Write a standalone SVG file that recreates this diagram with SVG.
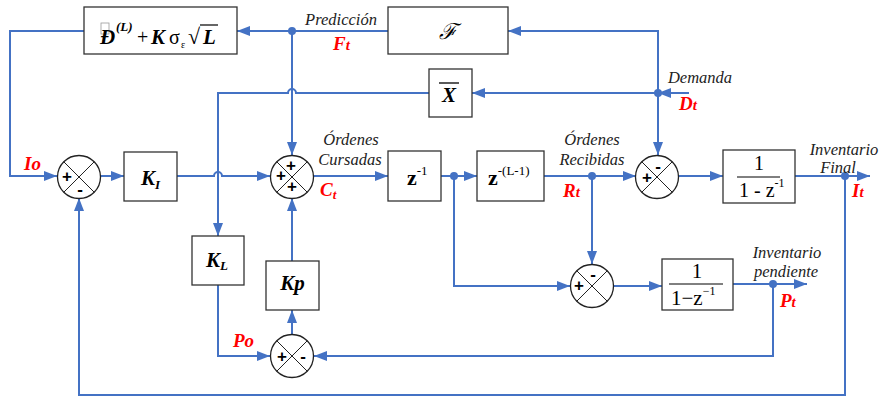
<svg xmlns="http://www.w3.org/2000/svg" width="883" height="398" viewBox="0 0 883 398">
<defs>
<marker id="a" markerWidth="13" markerHeight="10" refX="13" refY="5" orient="auto" markerUnits="userSpaceOnUse"><path d="M0,0L13,5L0,10z" fill="#4472C4"/></marker>
</defs>
<style>
.ln{fill:none;stroke:#4472C4;stroke-width:2}
.ar{marker-end:url(#a)}
.dot{fill:#4472C4}
.box{fill:#fff;stroke:#333;stroke-width:1.3}
.sc{fill:#fff;stroke:#222;stroke-width:1.3}
.x{stroke:#222;stroke-width:1}
.sg{font-weight:bold;font-size:17px;fill:#000;text-anchor:middle}
.lbl{font-style:italic;font-size:16.5px;fill:#222;text-anchor:middle}
.red{font-style:italic;font-weight:bold;font-size:19px;fill:#f00}
.bt{font-style:italic;font-weight:bold;font-size:21px;fill:#000}
.tm{font-size:20px;fill:#000}
</style>
<rect width="883" height="398" fill="#fff"/>
<g id="connectors">
<path class="ln ar" d="M84,31H10V176H57"/>
<path class="ln ar" d="M101,176H124"/>
<path class="ln ar" d="M177,176H214A4,4 0 0 1 222,176H270"/>
<path class="ln ar" d="M388,31H237"/>
<path class="ln ar" d="M292,31V155"/>
<path class="ln ar" d="M658,93H472"/>
<path class="ln ar" d="M429,93H296A4,4 0 0 0 288,93H218V236"/>
<path class="ln ar" d="M658,93V31H508"/>
<path class="ln ar" d="M658,93V155"/>
<path class="ln ar" d="M689,93H658"/>
<path class="ln ar" d="M314,176H388"/>
<path class="ln ar" d="M441,176H477"/>
<path class="ln ar" d="M544,176H636"/>
<path class="ln ar" d="M592,176V264"/>
<path class="ln ar" d="M454,176V286H570"/>
<path class="ln ar" d="M614,286H662"/>
<path class="ln ar" d="M733,284H807"/>
<path class="ln ar" d="M773,284V356H314"/>
<path class="ln ar" d="M218,285V356H270"/>
<path class="ln ar" d="M292,334V310"/>
<path class="ln ar" d="M292,261V198"/>
<path class="ln ar" d="M679,176H723"/>
<path class="ln ar" d="M795,176H870"/>
<path class="ln ar" d="M845,176V395H79V198"/>
<circle class="dot" cx="292" cy="31" r="4"/>
<circle class="dot" cx="658" cy="93" r="4"/>
<circle class="dot" cx="454" cy="176" r="4"/>
<circle class="dot" cx="592" cy="176" r="4"/>
<circle class="dot" cx="845" cy="176" r="4"/>
<circle class="dot" cx="773" cy="284" r="4"/>
</g>
<g font-family="'Liberation Serif', 'Times New Roman', serif">
<g id="box-D">
<rect class="box" x="84" y="7" width="153" height="47"/>
<rect x="101" y="23" width="8" height="11" fill="none" stroke="#999" stroke-width="0.8"/>
<text class="bt" x="100" y="44">Đ</text>
<text class="bt" x="116" y="31" style="font-size:13px">(L)</text>
<text class="tm" x="137" y="44">+</text>
<text class="bt" x="151" y="44">K</text>
<text class="tm" x="169" y="44">σ</text>
<text class="tm" x="181" y="48" style="font-size:10px">ε</text>
<text class="tm" x="188" y="44" style="font-size:22px">√</text>
<line x1="200" y1="25" x2="218" y2="25" stroke="#000" stroke-width="1.2"/>
<text class="bt" x="203" y="44">L</text>
</g>
<g id="box-F">
<rect class="box" x="388" y="7" width="120" height="47"/>
<text x="448" y="39" font-family="DejaVu Serif,serif" font-style="italic" font-size="22" text-anchor="middle">ℱ</text>
</g>
<g id="box-X">
<rect class="box" x="429" y="69" width="43" height="48"/>
<line x1="439" y1="83" x2="459" y2="83" stroke="#000" stroke-width="1.3"/>
<text class="bt" x="449" y="102" text-anchor="middle">X</text>
</g>
<g id="box-KI">
<rect class="box" x="124" y="152" width="53" height="49"/>
<text class="bt" x="141" y="185">K<tspan font-size="13" dy="4">I</tspan></text>
</g>
<g id="box-KL">
<rect class="box" x="192" y="236" width="52" height="49"/>
<text class="bt" x="206" y="267">K<tspan font-size="13" dy="3">L</tspan></text>
</g>
<g id="box-Kp">
<rect class="box" x="266" y="261" width="53" height="49"/>
<text class="bt" x="292.5" y="290" text-anchor="middle">Kp</text>
</g>
<g id="box-z1">
<rect class="box" x="388" y="151" width="53" height="50"/>
<text class="tm" x="407" y="185" style="font-size:22px;font-weight:bold">z<tspan font-weight="normal" font-size="13" dy="-10">-1</tspan></text>
</g>
<g id="box-zL">
<rect class="box" x="477" y="151" width="67" height="50"/>
<text class="tm" x="488" y="185" style="font-size:22px;font-weight:bold">z<tspan font-weight="normal" font-size="13" dy="-10">-(L-1)</tspan></text>
</g>
<g id="box-int1">
<rect class="box" x="723" y="150" width="72" height="53"/>
<text class="tm" x="759" y="170" text-anchor="middle">1</text>
<line x1="737" y1="177" x2="780" y2="177" stroke="#000" stroke-width="1"/>
<text class="tm" x="739" y="197">1 - z<tspan font-size="12" dy="-10">-1</tspan></text>
</g>
<g id="box-int2">
<rect class="box" x="662" y="259" width="71" height="51"/>
<text class="tm" x="697" y="278" text-anchor="middle" style="font-size:21px">1</text>
<line x1="669" y1="284" x2="723" y2="284" stroke="#000" stroke-width="1"/>
<text class="tm" x="671" y="305" style="font-size:21px">1−z<tspan font-size="12" dy="-10">−1</tspan></text>
</g>
<g id="labels">
<text class="lbl" x="341" y="25">Predicción</text>
<text class="red" x="333" y="50">F<tspan font-size="15">t</tspan></text>
<text class="lbl" x="700" y="83">Demanda</text>
<text class="red" x="679" y="110">D<tspan font-size="15">t</tspan></text>
<text class="lbl" x="351" y="145">Órdenes</text>
<text class="lbl" x="350" y="165">Cursadas</text>
<text class="red" x="320" y="196">C<tspan font-size="13" dy="3">t</tspan></text>
<text class="lbl" x="592" y="145">Órdenes</text>
<text class="lbl" x="592" y="165">Recibidas</text>
<text class="red" x="563" y="197">R<tspan font-size="15">t</tspan></text>
<text class="red" x="24" y="170">Io</text>
<text class="red" x="233" y="347">Po</text>
<text class="red" x="780" y="307">P<tspan font-size="15">t</tspan></text>
<text class="red" x="852" y="197">I<tspan font-size="15">t</tspan></text>
<text class="lbl" x="844" y="155">Inventario</text>
<text class="lbl" x="838" y="173">Final</text>
<text class="lbl" x="787" y="258">Inventario</text>
<text class="lbl" x="786" y="277">pendiente</text>
</g>
</g>
<g font-family="'Liberation Sans', Arial, sans-serif">
<g id="sum1">
<circle class="sc" cx="79" cy="177" r="21.5"/>
<path class="x" d="M63.8,161.8L94.2,192.2M94.2,161.8L63.8,192.2"/>
<text class="sg" x="67" y="182">+</text>
<text class="sg" x="80" y="195">-</text>
</g>
<g id="sum2">
<circle class="sc" cx="292" cy="177" r="21.5"/>
<path class="x" d="M276.8,161.8L307.2,192.2M307.2,161.8L276.8,192.2"/>
<text class="sg" x="291" y="171">+</text>
<text class="sg" x="281" y="181">+</text>
<text class="sg" x="292" y="192">+</text>
</g>
<g id="sum3">
<circle class="sc" cx="292" cy="356" r="21.5"/>
<path class="x" d="M276.8,340.8L307.2,371.2M307.2,340.8L276.8,371.2"/>
<text class="sg" x="282" y="362">+</text>
<text class="sg" x="303" y="362">-</text>
</g>
<g id="sum4">
<circle class="sc" cx="657" cy="177" r="21.5"/>
<path class="x" d="M641.8,161.8L672.2,192.2M672.2,161.8L641.8,192.2"/>
<text class="sg" x="658" y="172">-</text>
<text class="sg" x="647" y="183">+</text>
</g>
<g id="sum5">
<circle class="sc" cx="592" cy="286" r="21.5"/>
<path class="x" d="M576.8,270.8L607.2,301.2M607.2,270.8L576.8,301.2"/>
<text class="sg" x="593" y="280">-</text>
<text class="sg" x="579" y="291">+</text>
</g>
</g>
</svg>
